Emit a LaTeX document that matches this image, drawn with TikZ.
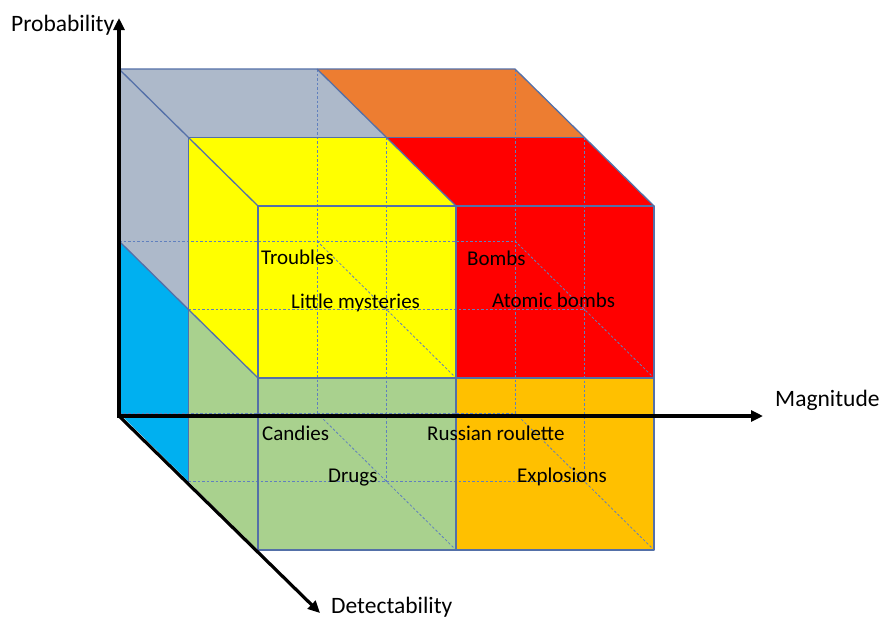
\documentclass[tikz,border=0pt]{standalone}
\usepackage{fontspec}
\setmainfont{Carlito}
\usetikzlibrary{arrows.meta}

\definecolor{edgeblue}{RGB}{84,112,168}
\definecolor{hidblue}{RGB}{96,128,190}
\definecolor{cgray}{RGB}{173,185,202}
\definecolor{corange}{RGB}{237,125,49}
\definecolor{cyellow}{RGB}{255,255,0}
\definecolor{cred}{RGB}{255,0,0}
\definecolor{cblue}{RGB}{0,176,240}
\definecolor{cgreen}{RGB}{169,209,142}
\definecolor{camber}{RGB}{255,192,0}

\tikzset{
  face/.style={draw=none},
  edge/.style={draw=edgeblue, line width=1.3pt, line join=round},
  hidden/.style={draw=hidblue, line width=0.8pt, dash pattern=on 2.5pt off 2pt},
  axis/.style={draw=black, line width=3.2pt, -{Triangle[length=12pt,width=11pt]}},
  axislabel/.style={anchor=base west, inner sep=0pt, font=\fontsize{23.5}{28}\selectfont},
  celllabel/.style={anchor=base west, inner sep=0pt, font=\fontsize{21}{25}\selectfont},
}

\begin{document}
\begin{tikzpicture}[x=1pt, y=-1pt]
\useasboundingbox (0,0) rectangle (882,619);
\fill[white] (0,0) rectangle (882,619);

% lattice points of the 2x2x2 cube: i = magnitude, j = level from top, k = depth
\foreach \i in {0,1,2}{
  \foreach \j in {0,1,2}{
    \foreach \k in {0,1,2}{
      \coordinate (p\i\j\k) at ({119+198*\i+69.5*\k}, {69+172*\j+68.5*\k});
    }
  }
}

% back layer faces
\fill[cgray]   (p000) -- (p100) -- (p101) -- (p001) -- cycle;
\fill[cgray]   (p000) -- (p001) -- (p011) -- (p010) -- cycle;
\fill[corange] (p100) -- (p200) -- (p201) -- (p101) -- cycle;
\fill[cblue]   (p010) -- (p011) -- (p021) -- (p020) -- cycle;

% front layer faces
\fill[cyellow] (p001) -- (p101) -- (p102) -- (p002) -- cycle;
\fill[cyellow] (p001) -- (p002) -- (p012) -- (p011) -- cycle;
\fill[cyellow] (p002) -- (p102) -- (p112) -- (p012) -- cycle;
\fill[cred]    (p101) -- (p201) -- (p202) -- (p102) -- cycle;
\fill[cred]    (p102) -- (p202) -- (p212) -- (p112) -- cycle;
\fill[cgreen]  (p011) -- (p012) -- (p022) -- (p021) -- cycle;
\fill[cgreen]  (p012) -- (p112) -- (p122) -- (p022) -- cycle;
\fill[camber]  (p112) -- (p212) -- (p222) -- (p122) -- cycle;

% hidden grid lines
\draw[hidden] (p100) -- (p120);
\draw[hidden] (p200) -- (p220);
\draw[hidden] (p010) -- (p210);
\draw[hidden] (p020) -- (p220);
\draw[hidden] (p101) -- (p121);
\draw[hidden] (p201) -- (p221);
\draw[hidden] (p011) -- (p211);
\draw[hidden] (p021) -- (p221);
\draw[hidden] (p110) -- (p111) -- (p112);
\draw[hidden] (p210) -- (p211) -- (p212);
\draw[hidden] (p120) -- (p121) -- (p122);
\draw[hidden] (p220) -- (p221) -- (p222);

% visible edges
\draw[edge] (p000) -- (p200) -- (p201) -- (p202);
\draw[edge] (p000) -- (p001) -- (p002);
\draw[edge] (p100) -- (p101) -- (p102);
\draw[edge] (p001) -- (p201);
\draw[edge] (p001) -- (p021);
\draw[edge] (p010) -- (p011) -- (p012);
\draw[edge] (p002) -- (p202) -- (p222) -- (p022) -- cycle;
\draw[edge] (p102) -- (p122);
\draw[edge] (p012) -- (p212);

% axes
\coordinate (origin) at (119,416);
\coordinate (probtip) at (119,18);
\coordinate (magtip) at (763,416);
\coordinate (dettip) at (320,613);
\draw[axis, line cap=rect] (origin) -- (probtip);
\draw[axis, line cap=rect] (origin) -- (magtip);
\draw[axis] (origin) -- (dettip);

\node[axislabel] (problabel) at (11,31) {Probability};
\node[axislabel] (maglabel) at (775,406) {Magnitude};
\node[axislabel] (detlabel) at (331,613) {Detectability};

% cell labels
\node[celllabel] (troubles)  at (261,264) {Troubles};
\node[celllabel] (mysteries) at (291,308) {Little mysteries};
\node[celllabel] (bombs)     at (467,265) {Bombs};
\node[celllabel] (atomic)    at (492,307) {Atomic bombs};
\node[celllabel] (candies)   at (262,440) {Candies};
\node[celllabel] (drugs)     at (328,482) {Drugs};
\node[celllabel] (roulette)  at (427,440) {Russian roulette};
\node[celllabel] (explosions) at (517,482) {Explosions};
\end{tikzpicture}
\end{document}
